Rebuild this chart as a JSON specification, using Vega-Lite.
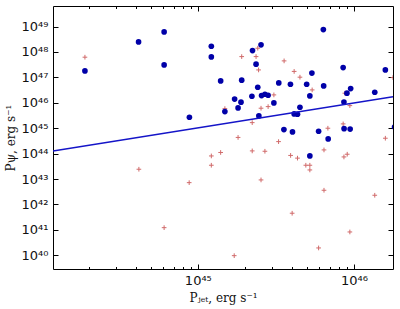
{
  "$schema": "https://vega.github.io/schema/vega-lite/v6.json",
  "autosize": {"type": "none"},
  "width": 340,
  "height": 263,
  "padding": {"left": 53, "top": 6, "right": 7, "bottom": 40},
  "background": "white",
  "config": {
    "view": {"stroke": "black", "strokeWidth": 1},
    "axis": {
      "grid": false,
      "domain": false,
      "tickColor": "black",
      "labelColor": "#111",
      "labelFont": "DejaVu Sans",
      "labelFontSize": 13,
      "titleFont": "DejaVu Serif",
      "titleFontSize": 12,
      "titleFontWeight": "normal",
      "titleColor": "#111"
    }
  },
  "datasets": {
    "psi": [
      {"pjet": 1.89e44, "ppsi": 1.80e47},
      {"pjet": 4.17e44, "ppsi": 2.50e48},
      {"pjet": 6.08e44, "ppsi": 6.18e48},
      {"pjet": 6.08e44, "ppsi": 3.11e47},
      {"pjet": 8.83e44, "ppsi": 2.71e45},
      {"pjet": 1.22e45, "ppsi": 1.69e48},
      {"pjet": 1.22e45, "ppsi": 6.41e47},
      {"pjet": 2.24e45, "ppsi": 1.14e48},
      {"pjet": 2.54e45, "ppsi": 1.91e48},
      {"pjet": 2.36e45, "ppsi": 3.31e47},
      {"pjet": 1.40e45, "ppsi": 7.28e46},
      {"pjet": 1.91e45, "ppsi": 7.76e46},
      {"pjet": 2.42e45, "ppsi": 4.11e46},
      {"pjet": 3.30e45, "ppsi": 6.07e46},
      {"pjet": 3.92e45, "ppsi": 5.40e46},
      {"pjet": 4.98e45, "ppsi": 5.40e46},
      {"pjet": 5.38e45, "ppsi": 1.48e47},
      {"pjet": 6.37e45, "ppsi": 7.62e48},
      {"pjet": 6.40e45, "ppsi": 4.63e46},
      {"pjet": 5.22e45, "ppsi": 1.87e46},
      {"pjet": 8.53e45, "ppsi": 2.43e47},
      {"pjet": 9.02e45, "ppsi": 2.39e46},
      {"pjet": 9.53e45, "ppsi": 3.62e46},
      {"pjet": 8.63e45, "ppsi": 1.08e46},
      {"pjet": 1.36e46, "ppsi": 2.61e46},
      {"pjet": 1.59e46, "ppsi": 1.97e47},
      {"pjet": 1.72e45, "ppsi": 1.40e46},
      {"pjet": 1.89e45, "ppsi": 1.06e46},
      {"pjet": 1.81e45, "ppsi": 6.30e45},
      {"pjet": 2.22e45, "ppsi": 1.82e46},
      {"pjet": 2.56e45, "ppsi": 1.92e46},
      {"pjet": 2.69e45, "ppsi": 2.18e46},
      {"pjet": 2.82e45, "ppsi": 1.99e46},
      {"pjet": 3.07e45, "ppsi": 9.91e45},
      {"pjet": 1.49e45, "ppsi": 4.51e45},
      {"pjet": 4.51e45, "ppsi": 6.71e45},
      {"pjet": 4.14e45, "ppsi": 3.66e45},
      {"pjet": 4.35e45, "ppsi": 3.56e45},
      {"pjet": 2.46e45, "ppsi": 3.05e45},
      {"pjet": 3.56e45, "ppsi": 8.81e44},
      {"pjet": 4.04e45, "ppsi": 7.15e44},
      {"pjet": 5.94e45, "ppsi": 7.62e44},
      {"pjet": 6.84e45, "ppsi": 3.79e44},
      {"pjet": 8.65e45, "ppsi": 9.64e44},
      {"pjet": 9.46e45, "ppsi": 9.22e44},
      {"pjet": 5.22e45, "ppsi": 8.11e43},
      {"pjet": 1.82e46, "ppsi": 1.12e45}
    ],
    "other": [
      {"pjet": 1.89e44, "ppsi": 6.24e47},
      {"pjet": 4.19e44, "ppsi": 2.43e43},
      {"pjet": 8.80e44, "ppsi": 7.21e42},
      {"pjet": 6.08e44, "ppsi": 1.22e41},
      {"pjet": 1.91e45, "ppsi": 6.59e47},
      {"pjet": 2.36e45, "ppsi": 6.59e47},
      {"pjet": 2.42e45, "ppsi": 1.41e48},
      {"pjet": 2.45e45, "ppsi": 1.97e47},
      {"pjet": 3.57e45, "ppsi": 4.47e47},
      {"pjet": 4.14e45, "ppsi": 1.72e47},
      {"pjet": 4.51e45, "ppsi": 1.02e47},
      {"pjet": 5.40e45, "ppsi": 3.22e46},
      {"pjet": 3.07e45, "ppsi": 2.05e46},
      {"pjet": 1.49e45, "ppsi": 5.91e45},
      {"pjet": 2.54e45, "ppsi": 6.13e45},
      {"pjet": 2.82e45, "ppsi": 7.08e45},
      {"pjet": 2.23e45, "ppsi": 1.66e45},
      {"pjet": 3.29e45, "ppsi": 2.97e44},
      {"pjet": 1.81e45, "ppsi": 4.34e44},
      {"pjet": 2.23e45, "ppsi": 1.28e44},
      {"pjet": 2.69e45, "ppsi": 1.24e44},
      {"pjet": 1.22e45, "ppsi": 8.11e43},
      {"pjet": 1.40e45, "ppsi": 1.11e44},
      {"pjet": 3.93e45, "ppsi": 8.49e43},
      {"pjet": 4.35e45, "ppsi": 6.65e43},
      {"pjet": 6.43e45, "ppsi": 1.40e44},
      {"pjet": 6.81e45, "ppsi": 1.00e45},
      {"pjet": 8.53e45, "ppsi": 1.48e45},
      {"pjet": 8.63e45, "ppsi": 7.41e43},
      {"pjet": 9.06e45, "ppsi": 9.47e43},
      {"pjet": 9.42e45, "ppsi": 7.76e45},
      {"pjet": 8.75e45, "ppsi": 2.39e46},
      {"pjet": 1.59e46, "ppsi": 4.04e44},
      {"pjet": 1.78e46, "ppsi": 9.82e46},
      {"pjet": 1.22e45, "ppsi": 3.49e43},
      {"pjet": 2.54e45, "ppsi": 9.23e42},
      {"pjet": 4.92e45, "ppsi": 3.49e43},
      {"pjet": 5.22e45, "ppsi": 3.49e43},
      {"pjet": 5.22e45, "ppsi": 2.28e43},
      {"pjet": 6.43e45, "ppsi": 3.62e42},
      {"pjet": 4.02e45, "ppsi": 4.51e41},
      {"pjet": 9.42e45, "ppsi": 8.26e40},
      {"pjet": 5.94e45, "ppsi": 1.94e40},
      {"pjet": 1.71e45, "ppsi": 9.64e39},
      {"pjet": 1.36e46, "ppsi": 2.30e42}
    ],
    "fit": [
      {"pjet": 1.18e44, "ppsi": 1.28e44},
      {"pjet": 1.78e46, "ppsi": 1.75e46}
    ]
  },
  "layer": [
    {
      "data": {"name": "other"},
      "mark": {"type": "point", "shape": "M-1,0L1,0M0,-1L0,1", "filled": false, "stroke": "#d06a6a", "strokeWidth": 1, "size": 22, "opacity": 1, "clip": true},
      "encoding": {
        "x": {
          "field": "pjet", "type": "quantitative",
          "scale": {"type": "log", "domain": [1.18e44, 1.78e46], "nice": false},
          "axis": {
            "orient": "bottom",
            "values": [2e44, 3e44, 4e44, 5e44, 6e44, 7e44, 8e44, 9e44, 1e45, 2e45, 3e45, 4e45, 5e45, 6e45, 7e45, 8e45, 9e45, 1e46],
            "labelExpr": "(datum.value / pow(10, round(log(datum.value)/LN10)) > 0.99 && datum.value / pow(10, round(log(datum.value)/LN10)) < 1.01) ? '10' + ['⁰','¹','²','³','⁴','⁵','⁶','⁷','⁸','⁹'][floor(round(log(datum.value)/LN10)/10)] + ['⁰','¹','²','³','⁴','⁵','⁶','⁷','⁸','⁹'][round(log(datum.value)/LN10)%10] : ''",
            "tickSize": {"condition": {"test": "datum.value / pow(10, round(log(datum.value)/LN10)) > 0.99 && datum.value / pow(10, round(log(datum.value)/LN10)) < 1.01", "value": -5}, "value": -2.5},
            "labelPadding": 10,
            "labelFlush": false,
            "labelOverlap": false,
            "title": "Pⱼₑₜ, erg s⁻¹",
            "titlePadding": 3
          }
        },
        "y": {
          "field": "ppsi", "type": "quantitative",
          "scale": {"type": "log", "domain": [2.88e39, 6.46e49], "nice": false},
          "axis": {
            "orient": "left",
            "values": [1e40, 1e41, 1e42, 1e43, 1e44, 1e45, 1e46, 1e47, 1e48, 1e49],
            "labelExpr": "'10' + ['⁰','¹','²','³','⁴','⁵','⁶','⁷','⁸','⁹'][floor(round(log(datum.value)/LN10)/10)] + ['⁰','¹','²','³','⁴','⁵','⁶','⁷','⁸','⁹'][round(log(datum.value)/LN10)%10]",
            "tickSize": -5,
            "labelPadding": 10,
            "labelFlush": false,
            "labelOverlap": false,
            "title": "Pψ, erg s⁻¹",
            "titlePadding": 4
          }
        }
      }
    },
    {
      "data": {"name": "psi"},
      "mark": {"type": "point", "shape": "circle", "filled": true, "color": "#0000a8", "size": 32, "opacity": 1, "clip": true},
      "encoding": {
        "x": {
          "field": "pjet", "type": "quantitative",
          "scale": {"type": "log", "domain": [1.18e44, 1.78e46], "nice": false},
          "axis": {
            "orient": "top",
            "values": [2e44, 3e44, 4e44, 5e44, 6e44, 7e44, 8e44, 9e44, 1e45, 2e45, 3e45, 4e45, 5e45, 6e45, 7e45, 8e45, 9e45, 1e46],
            "labels": false,
            "title": null,
            "tickSize": {"condition": {"test": "datum.value / pow(10, round(log(datum.value)/LN10)) > 0.99 && datum.value / pow(10, round(log(datum.value)/LN10)) < 1.01", "value": -5}, "value": -2.5}
          }
        },
        "y": {
          "field": "ppsi", "type": "quantitative",
          "scale": {"type": "log", "domain": [2.88e39, 6.46e49], "nice": false},
          "axis": {
            "orient": "right",
            "values": [1e40, 1e41, 1e42, 1e43, 1e44, 1e45, 1e46, 1e47, 1e48, 1e49],
            "labels": false,
            "title": null,
            "tickSize": -5
          }
        }
      }
    },
    {
      "data": {"name": "fit"},
      "mark": {"type": "line", "color": "#1414c8", "strokeWidth": 1.5, "clip": true},
      "encoding": {
        "x": {"field": "pjet", "type": "quantitative", "scale": {"type": "log", "domain": [1.18e44, 1.78e46], "nice": false}, "axis": null},
        "y": {"field": "ppsi", "type": "quantitative", "scale": {"type": "log", "domain": [2.88e39, 6.46e49], "nice": false}, "axis": null}
      }
    }
  ],
  "resolve": {"axis": {"x": "independent", "y": "independent"}}
}
